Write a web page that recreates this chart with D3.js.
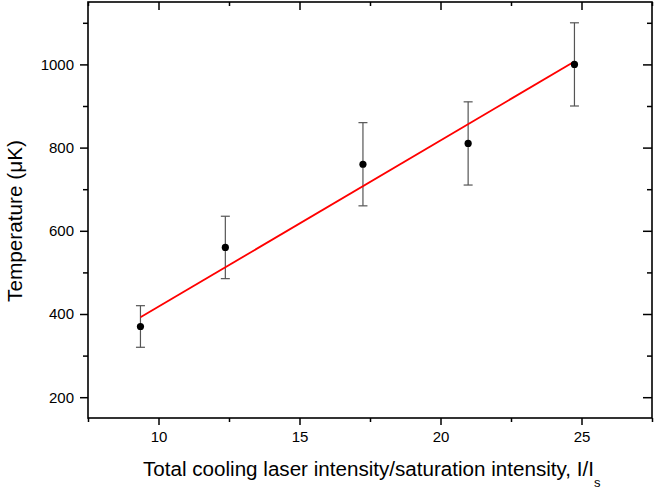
<!DOCTYPE html>
<html><head><meta charset="utf-8">
<script src="https://cdn.jsdelivr.net/npm/d3@7"></script>
<style>body{margin:0;background:#fff}svg{display:block}text{font-family:"Liberation Sans",Arial,sans-serif}</style>
</head><body><svg id="c" width="654" height="489"></svg>
<script>
const xVals = [9.36, 12.37, 17.25, 20.98, 24.75];
const yVals = [370, 560, 760, 810, 1000];
const yErr = [50, 75, 100, 100, 100];
const fitX = [9.36, 24.75];
const fitY = [392, 1007];
const xTicks = [10, 15, 20, 25];
const xMinor = [7.5, 12.5, 17.5, 22.5, 27.5];
const yTicks = [200, 400, 600, 800, 1000];
const yMinor = [300, 500, 700, 900, 1100];

const svg = d3.select("#c");
const L = 88, R = 652, T = 2, B = 418;
const x = d3.scaleLinear().domain([7.5, 27.5]).range([L, R]);
const y = d3.scaleLinear().domain([150, 1150]).range([B, T]);

// frame
svg.append("rect").attr("x", L).attr("y", T).attr("width", R - L).attr("height", B - T)
  .attr("fill", "none").attr("stroke", "#000").attr("stroke-width", 1.6);

// axes
const fmt = d3.format("d");
svg.append("g").attr("transform", `translate(0,${B})`)
  .call(d3.axisBottom(x).tickValues(xTicks).tickFormat(fmt).tickSize(7).tickPadding(6));
svg.append("g").attr("transform", `translate(0,${B})`)
  .call(d3.axisBottom(x).tickValues(xMinor).tickFormat("").tickSize(4));
svg.append("g").attr("transform", `translate(${L},0)`)
  .call(d3.axisLeft(y).tickValues(yTicks).tickFormat(fmt).tickSize(8).tickPadding(6));
svg.append("g").attr("transform", `translate(${L},0)`)
  .call(d3.axisLeft(y).tickValues(yMinor).tickFormat("").tickSize(5));
svg.append("g").attr("transform", `translate(0,${T})`)
  .call(d3.axisBottom(x).tickValues(xTicks).tickFormat("").tickSize(8));
svg.append("g").attr("transform", `translate(0,${T})`)
  .call(d3.axisBottom(x).tickValues(xMinor).tickFormat("").tickSize(4));
svg.append("g").attr("transform", `translate(${R},0)`)
  .call(d3.axisLeft(y).tickValues(yTicks).tickFormat("").tickSize(9));
svg.append("g").attr("transform", `translate(${R},0)`)
  .call(d3.axisLeft(y).tickValues(yMinor).tickFormat("").tickSize(5));
svg.selectAll(".domain").remove();
svg.selectAll(".tick line").attr("stroke", "#000").attr("stroke-width", 1.5);
svg.selectAll(".tick text").attr("font-size", 15).attr("fill", "#000")
  .attr("font-family", "Liberation Sans, Arial, sans-serif");

// error bars
const data = xVals.map((v, i) => ({x: v, y: yVals[i], e: yErr[i]}));
const eb = svg.append("g").attr("stroke", "#555").attr("stroke-width", 1.2);
data.forEach(d => {
  eb.append("line").attr("x1", x(d.x)).attr("x2", x(d.x)).attr("y1", y(d.y - d.e)).attr("y2", y(d.y + d.e));
  [d.y - d.e, d.y + d.e].forEach(v => {
    eb.append("line").attr("x1", x(d.x) - 4.5).attr("x2", x(d.x) + 4.5).attr("y1", y(v)).attr("y2", y(v));
  });
});

// fit line
svg.append("path").datum(fitX.map((v, i) => [v, fitY[i]]))
  .attr("d", d3.line().x(d => x(d[0])).y(d => y(d[1])))
  .attr("fill", "none").attr("stroke", "#ff0000").attr("stroke-width", 1.8);

// points
svg.append("g").selectAll("circle").data(data).join("circle")
  .attr("cx", d => x(d.x)).attr("cy", d => y(d.y)).attr("r", 3.6).attr("fill", "#000");

// labels
const xl = svg.append("text").attr("x", 143).attr("y", 476).attr("font-size", 20).attr("fill", "#000");
xl.append("tspan").attr("textLength", 451).attr("lengthAdjust", "spacingAndGlyphs")
  .text("Total cooling laser intensity/saturation intensity, I/I");
xl.append("tspan").attr("dy", 11).attr("font-size", 13).text("s");

svg.append("text").attr("transform", "translate(22,221) rotate(-90)")
  .attr("text-anchor", "middle").attr("font-size", 20).attr("fill", "#000")
  .attr("textLength", 162).attr("lengthAdjust", "spacingAndGlyphs")
  .text("Temperature (\u03bcK)");
</script></body></html>
